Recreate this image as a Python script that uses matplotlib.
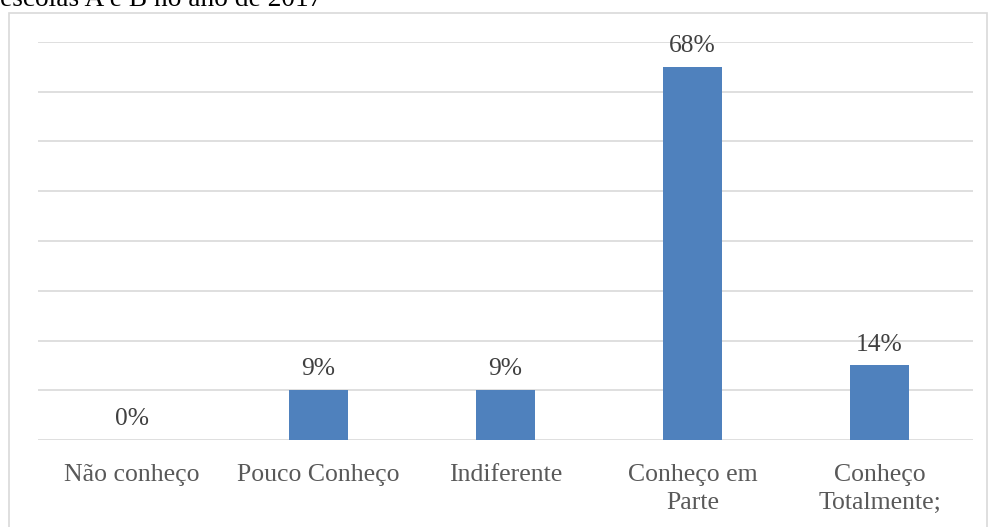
import matplotlib.pyplot as plt
from matplotlib.patches import Rectangle

categorias = ["Não conheço", "Pouco Conheço", "Indiferente", "Conheço em\nParte", "Conheço\nTotalmente;"]
respostas = [0, 2, 2, 15, 3]
rotulos = ["0%", "9%", "9%", "68%", "14%"]
titulo = "escolas A e B no ano de 2017"

plt.rcParams['font.family'] = ['Liberation Serif', 'DejaVu Serif']

fig = plt.figure(figsize=(9.88, 5.27), dpi=100)
ax = fig.add_axes([38 / 988, (527 - 440) / 527, (973 - 38) / 988, (440 - 42) / 527])

# moldura do grafico
fig.patches.append(Rectangle((9 / 988, -0.1), 978 / 988, 1.1 - 13 / 527,
                             transform=fig.transFigure, fill=False,
                             edgecolor='#D9D9D9', linewidth=1.2))
fig.text(0, 1 - 6 / 527, titulo, fontsize=19.7, color='black', va='baseline', ha='left')

x = range(len(categorias))
ax.bar(x, respostas, width=0.315, color='#4F81BD', zorder=3)

for i in x:
    ax.annotate(rotulos[i], (i, respostas[i]), xytext=(0, 15), textcoords='offset points',
                ha='center', va='center', fontsize=18.4, color='#404040')

ax.set_xlim(-0.5, len(categorias) - 0.5)
ax.set_ylim(0, 16)
ax.set_yticks(range(0, 17, 2))
ax.yaxis.grid(True, color='#D9D9D9', linewidth=1.2, zorder=0)
ax.set_yticklabels([])
ax.set_xticks(list(x))
ax.set_xticklabels(categorias, fontsize=18.5, color='#595959', linespacing=1.35)
ax.tick_params(axis='both', length=0)
ax.tick_params(axis='x', pad=17)
for s in ax.spines.values():
    s.set_visible(False)

fig.savefig("out.png", dpi=100)
